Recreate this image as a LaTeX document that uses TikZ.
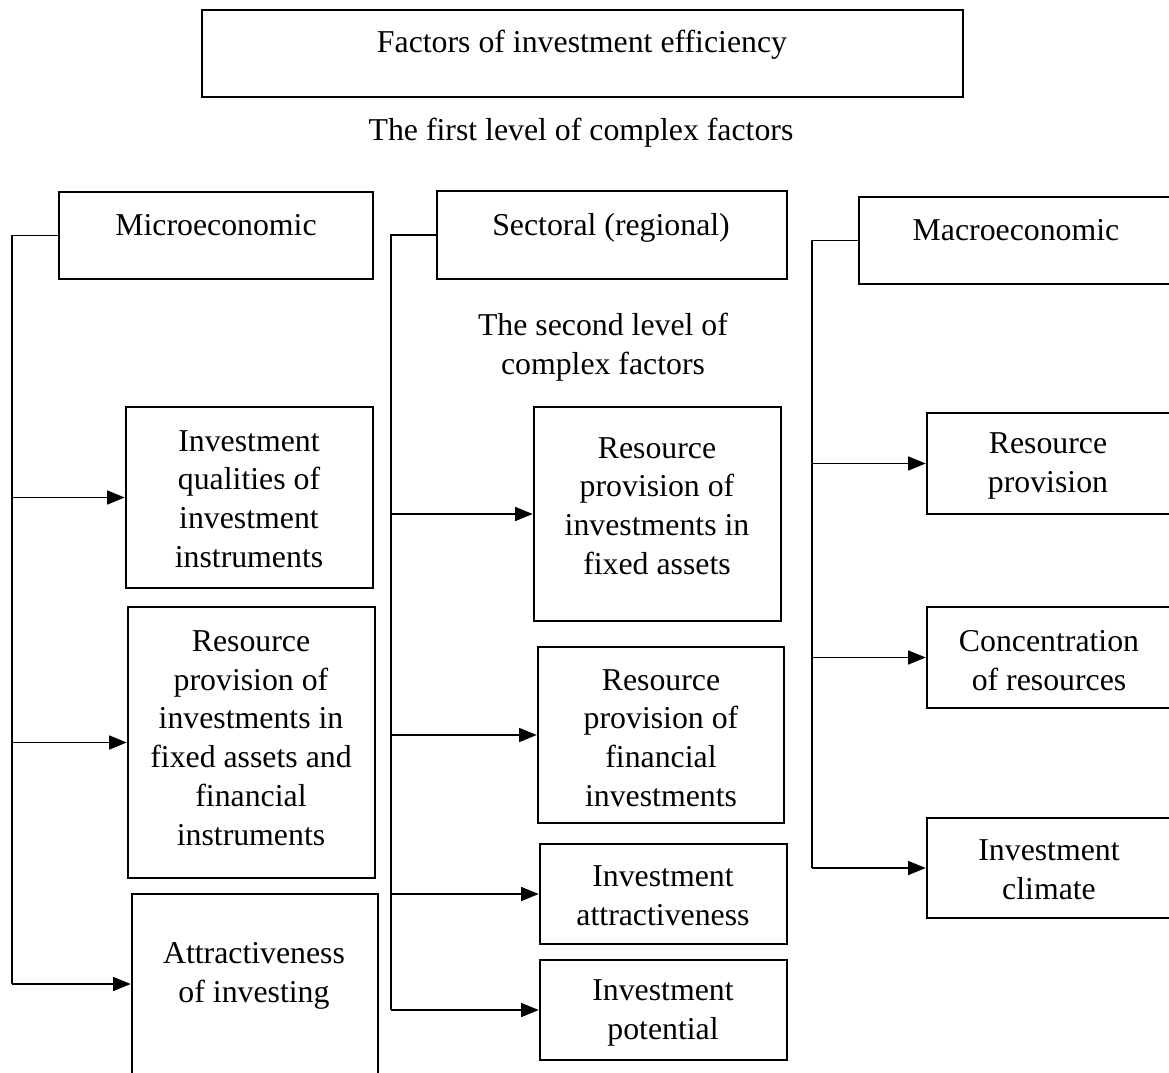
\documentclass[tikz,border=0pt]{standalone}
\usepackage{fontspec}
\setmainfont{Liberation Serif}
\usetikzlibrary{arrows.meta,fit}
\begin{document}
\begin{tikzpicture}[x=0.02cm,y=-0.02cm,
  box/.style={draw, line width=1.5pt, inner sep=0pt},
  lbl/.style={align=center, inner sep=0pt, font=\fontsize{18.1}{22.1}\selectfont},
  conn/.style={line width=0.75pt},
  arr/.style={conn, -{Triangle[length=10pt,width=8pt]}},
]
\useasboundingbox (0,0) rectangle (1169,1072);

% title and first level
\node[box, fit={(202,10)(963,97)}] (top) {};
\node[lbl, anchor=base] (topT) at (582,52) {Factors of investment efficiency};
\node[lbl, anchor=base] (lvl1) at (581,140) {The first level of complex factors};

% first-level boxes
\node[box, fit={(59,192)(373,279)}] (micro) {};
\node[lbl, anchor=base] (microT) at (216,235) {Microeconomic};
\node[box, fit={(437,191)(787,279)}] (sect) {};
\node[lbl, anchor=base] (sectT) at (611,235) {Sectoral (regional)};
\node[box, fit={(859,197)(1180,284)}] (macro) {};
\node[lbl, anchor=base] (macroT) at (1016,240) {Macroeconomic};

\node[lbl] (lvl2) at (603,347) {The second level of\\complex factors};

% microeconomic factors
\node[box, fit={(126,407)(373,588)}] (q) {};
\node[lbl] (qT) at (249,499) {Investment\\qualities of\\investment\\instruments};
\node[box, fit={(128,607)(375,878)}] (rf) {};
\node[lbl] (rfT) at (251,738) {Resource\\provision of\\investments in\\fixed assets and\\financial\\instruments};
\node[box, fit={(132,894)(378,1074)}] (att) {};
\node[lbl] (attT) at (254,976) {Attractiveness\\of investing};

% sectoral factors
\node[box, fit={(534,407)(781,621)}] (m1) {};
\node[lbl] (m1T) at (657,506) {Resource\\provision of\\investments in\\fixed assets};
\node[box, fit={(538,647)(784,823)}] (m2) {};
\node[lbl] (m2T) at (661,738) {Resource\\provision of\\financial\\investments};
\node[box, fit={(540,844)(787,944)}] (m3) {};
\node[lbl] (m3T) at (663,896) {Investment\\attractiveness};
\node[box, fit={(540,960)(787,1060)}] (m4) {};
\node[lbl] (m4T) at (663,1013) {Investment\\potential};

% macroeconomic factors
\node[box, fit={(927,413)(1180,514)}] (r1) {};
\node[lbl] (r1T) at (1048,466) {Resource\\provision};
\node[box, fit={(927,607)(1180,708)}] (r2) {};
\node[lbl] (r2T) at (1049,661) {Concentration\\of resources};
\node[box, fit={(927,818)(1180,918)}] (r3) {};
\node[lbl] (r3T) at (1049,870) {Investment\\climate};

% trunk lines
\coordinate (tL) at (12,0);
\coordinate (tM) at (391,0);
\coordinate (tR) at (812,0);

\draw[conn] (micro.west) -| (tL |- att.west);
\foreach \n in {q,rf,att} \draw[arr] (tL |- \n.west) -- (\n.west);

\draw[conn] (sect.west) -| (tM |- m4.west);
\foreach \n in {m1,m2,m3,m4} \draw[arr] (tM |- \n.west) -- (\n.west);

\draw[conn] (macro.west) -| (tR |- r3.west);
\foreach \n in {r1,r2,r3} \draw[arr] (tR |- \n.west) -- (\n.west);
\end{tikzpicture}
\end{document}
